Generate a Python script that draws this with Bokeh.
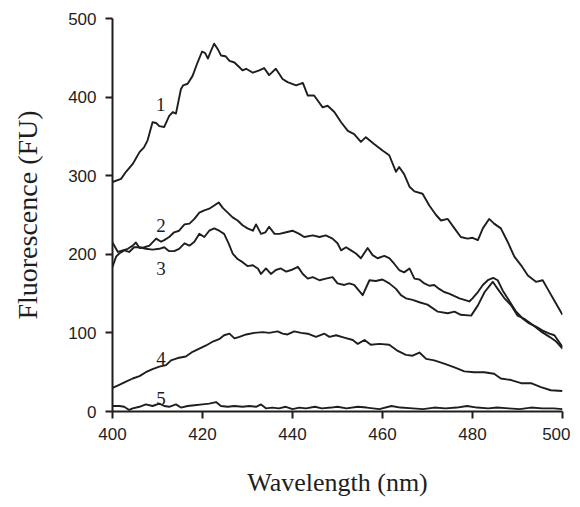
from bokeh.plotting import figure
from bokeh.models import Range1d, FixedTicker
from bokeh.core.properties import value
from bokeh.embed import file_html
from bokeh.resources import INLINE

# Curve 1
x1 = [400.0, 401.9, 403.0, 404.5, 406.0, 407.0, 407.8, 408.9, 409.7, 410.4, 411.5, 412.6, 413.4, 414.1,
      415.2, 415.7, 416.7, 417.8, 418.9, 419.9, 420.6, 421.2, 421.9, 422.6, 423.4, 424.1, 425.1, 426.0,
      427.1, 428.2, 428.9, 429.7, 431.2, 432.6, 433.7, 434.8, 436.3, 437.8, 438.9, 440.8, 442.3, 443.4,
      444.8, 446.7, 447.8, 449.3, 450.8, 452.3, 453.7, 455.2, 456.3, 458.2, 460.0, 461.5, 463.0, 463.7,
      464.8, 466.0, 467.1, 468.9, 470.4, 471.9, 473.0, 474.5, 476.0, 477.4, 478.9, 480.0, 481.2, 482.3,
      483.7, 484.8, 486.3, 487.8, 489.3, 490.8, 492.3, 494.1, 495.6, 496.7, 498.2, 500.0]
y1 = [292, 296, 305, 315, 330, 336, 345, 368, 367, 363, 362, 376, 381, 379,
      410, 415, 417, 427, 444, 458, 456, 449, 459, 468, 461, 453, 452, 446,
      444, 438, 434, 436, 431, 434, 437, 428, 436, 423, 419, 415, 418, 402,
      402, 387, 389, 381, 368, 357, 353, 343, 349, 340, 332, 326, 305, 311,
      302, 286, 280, 277, 262, 250, 243, 245, 233, 222, 220, 221, 218, 233,
      245, 239, 233, 216, 197, 186, 173, 165, 167, 156, 141, 123]

# Curve 2
x2 = [400.0, 401.2, 402.3, 403.4, 404.5, 405.2, 406.0, 407.1, 408.2, 409.7, 410.8, 411.5, 412.6, 413.7,
      414.8, 416.0, 417.1, 418.2, 419.3, 420.4, 421.5, 422.6, 423.6, 424.5, 425.6, 426.7, 427.8, 428.9,
      430.0, 431.2, 431.9, 433.0, 434.0, 434.8, 436.0, 437.1, 438.6, 440.0, 441.5, 442.6, 444.5, 446.0,
      447.4, 448.9, 450.0, 450.8, 451.9, 453.0, 454.1, 455.2, 456.7, 457.8, 458.9, 460.4, 461.5, 462.6,
      463.7, 464.8, 466.0, 467.1, 468.2, 469.3, 470.4, 471.5, 472.6, 473.7, 474.8, 475.9, 477.1, 478.2,
      479.3, 480.0, 481.2, 482.3, 483.4, 484.6, 485.6, 486.7, 487.8, 489.7, 491.2, 492.6, 494.1, 495.6,
      497.1, 498.2, 500.0]
y2 = [215, 203, 205, 207, 211, 215, 208, 209, 211, 220, 216, 218, 222, 228,
      230, 238, 239, 245, 253, 256, 258, 262, 266, 259, 253, 247, 243, 237,
      233, 230, 238, 226, 228, 235, 226, 226, 228, 230, 226, 222, 224, 222,
      224, 220, 214, 205, 209, 205, 201, 195, 208, 199, 195, 198, 195, 188,
      180, 177, 182, 169, 168, 163, 160, 161, 156, 152, 150, 147, 144, 142,
      140, 144, 152, 161, 167, 170, 167, 154, 144, 127, 118, 112, 108, 103,
      99, 97, 82]

# Curve 3
x3 = [400.0, 400.8, 401.5, 402.6, 403.7, 404.8, 406.0, 407.4, 408.9, 410.4, 411.5, 412.6, 413.7, 414.8,
      416.0, 417.1, 418.2, 419.3, 420.4, 421.5, 422.6, 423.7, 424.8, 425.8, 426.7, 427.8, 428.9, 430.0,
      431.2, 432.3, 433.0, 434.1, 435.2, 436.3, 437.4, 438.6, 439.7, 441.2, 442.3, 443.4, 444.5, 446.0,
      447.4, 448.9, 450.0, 451.5, 452.6, 453.7, 455.6, 457.1, 458.5, 460.0, 461.5, 463.0, 464.1, 465.2,
      466.7, 468.2, 470.0, 472.3, 474.5, 476.0, 477.4, 479.7, 481.2, 482.7, 484.5, 485.6, 487.1, 488.6,
      490.0, 491.5, 493.4, 495.2, 497.1, 498.6, 500.0]
y3 = [184, 197, 201, 205, 203, 209, 209, 207, 206, 207, 209, 204, 204, 207,
      214, 211, 216, 226, 222, 230, 233, 230, 226, 214, 201, 194, 190, 185,
      186, 182, 175, 182, 175, 180, 182, 178, 180, 184, 175, 169, 171, 167,
      169, 171, 163, 161, 163, 161, 148, 167, 166, 168, 163, 156, 148, 144,
      142, 139, 136, 127, 125, 127, 123, 122, 135, 152, 165, 156, 144, 135,
      122, 118, 110, 102, 95, 89, 80]

# Curve 4
x4 = [400.0, 401.5, 403.0, 404.5, 406.0, 407.4, 408.9, 410.4, 411.9, 413.0, 414.5, 416.3, 417.8, 419.3,
      420.8, 422.3, 423.7, 424.8, 426.0, 427.1, 428.2, 429.7, 431.5, 433.4, 434.8, 436.7, 437.8, 438.9,
      440.4, 441.9, 443.4, 445.2, 447.1, 448.2, 449.7, 451.5, 453.4, 454.5, 456.0, 457.4, 459.3, 461.5,
      463.4, 465.2, 466.7, 468.2, 469.7, 471.5, 473.7, 476.0, 478.2, 480.4, 482.6, 484.8, 486.3, 488.6,
      490.8, 493.0, 495.2, 497.4, 500.0]
y4 = [30, 34, 38, 42, 45, 50, 54, 57, 59, 65, 68, 70, 76, 80,
      84, 89, 92, 97, 99, 93, 95, 98, 100, 101, 100, 102, 99, 98,
      102, 100, 99, 95, 99, 95, 97, 94, 91, 86, 91, 85, 86, 85,
      77, 72, 71, 75, 67, 65, 61, 56, 51, 50, 50, 48, 42, 40,
      36, 36, 31, 27, 26]

# Curve 5
x5 = [400.0, 401.5, 402.6, 403.7, 404.5, 406.0, 407.4, 408.9, 410.4, 411.5, 412.6, 414.1, 415.2, 416.7,
      418.2, 420.0, 421.5, 423.0, 424.1, 425.6, 427.1, 428.9, 430.4, 431.9, 433.0, 434.1, 435.5, 437.0,
      438.5, 440.0, 441.5, 443.0, 445.0, 446.5, 448.6, 450.0, 452.0, 454.5, 456.5, 459.3, 462.0, 464.0,
      466.7, 469.0, 471.5, 474.0, 476.5, 478.8, 481.0, 483.5, 485.5, 488.0, 490.5, 493.0, 495.5, 498.0,
      500.0]
y5 = [7, 7, 6, 2, 4, 6, 9, 7, 10, 7, 6, 9, 5, 7,
      8, 9, 10, 12, 7, 6, 7, 6, 7, 6, 9, 4, 5, 4,
      6, 3, 5, 4, 6, 4, 5, 6, 4, 6, 5, 3, 7, 5,
      4, 3, 5, 4, 5, 7, 5, 4, 5, 4, 3, 5, 4, 4,
      3]

label_text = ["1", "2", "3", "4", "5"]
label_x = [410.7, 410.8, 410.8, 410.8, 410.8]
label_y = [391, 237, 182, 68, 16]

x_ticks = [400, 420, 440, 460, 480, 500]
y_ticks = [0, 100, 200, 300, 400, 500]

INK = "#1e1e1e"

p = figure(frame_width=450, frame_height=393, output_backend="svg", toolbar_location=None,
           x_range=Range1d(400, 500), y_range=Range1d(0, 500),
           min_border_left=112, min_border_right=8, min_border_top=18, min_border_bottom=0)
p.outline_line_color = None
p.xgrid.visible = False
p.ygrid.visible = False
p.background_fill_color = "white"
p.border_fill_color = "white"

for xs, ys in [(x1, y1), (x2, y2), (x3, y3), (x4, y4), (x5, y5)]:
    p.line(xs, ys, line_color=INK, line_width=1.9, line_join="round")

p.text(x=label_x, y=label_y, text=label_text, text_font=value("Liberation Serif"),
       text_font_size="19px", text_align="center", text_baseline="middle", text_color=INK)

for ax in (p.xaxis[0], p.yaxis[0]):
    ax.axis_line_color = INK
    ax.axis_line_width = 2
    ax.major_tick_line_color = INK
    ax.major_tick_line_width = 2
    ax.major_tick_in = 0
    ax.major_tick_out = 7
    ax.minor_tick_line_color = None
    ax.major_label_text_font = "Liberation Sans"
    ax.major_label_text_font_size = "17px"
    ax.major_label_text_color = INK
    ax.axis_label_text_font = "Liberation Serif"
    ax.axis_label_text_font_style = "normal"
    ax.axis_label_text_color = INK

p.xaxis.ticker = FixedTicker(ticks=x_ticks)
p.yaxis.ticker = FixedTicker(ticks=y_ticks)
p.xaxis.axis_label = "Wavelength (nm)"
p.yaxis.axis_label = "Fluorescence (FU)"
p.xaxis.axis_label_text_font_size = "26px"
p.yaxis.axis_label_text_font_size = "28px"
p.xaxis.major_label_standoff = 9
p.yaxis.major_label_standoff = 9
p.xaxis.axis_label_standoff = 25
p.yaxis.axis_label_standoff = 22

open("out.html", "w").write(file_html(p, INLINE))
